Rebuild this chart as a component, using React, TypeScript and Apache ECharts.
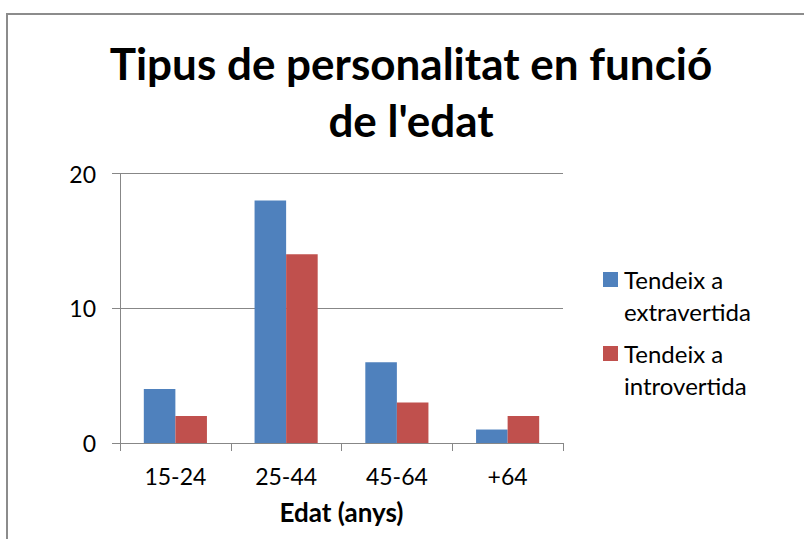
import React, { useEffect, useRef } from "react";
import * as echarts from "echarts";

const titleLines = ["Tipus de personalitat en funció", "de l'edat"];
const categories = ["15-24", "25-44", "45-64", "+64"];
const seriesNames = ["Tendeix a\nextravertida", "Tendeix a\nintrovertida"];
const extravertida = [4, 18, 6, 1];
const introvertida = [2, 14, 3, 2];
const yTicks = { min: 0, max: 20, interval: 10 };
const xAxisName = "Edat (anys)";
const colors = ["#4F81BD", "#C0504D"];

const FONT = "Lato, 'Open Sans', sans-serif";
const GRAY = "#878787";

export default function App() {
  const ref = useRef<HTMLDivElement>(null);
  useEffect(() => {
    if (!ref.current) return;
    const chart = echarts.init(ref.current, undefined, { renderer: "svg" });
    const legendItems: any[] = [];
    seriesNames.forEach((name, i) => {
      const y0 = 272 + i * 74;
      legendItems.push({
        type: "rect",
        shape: { x: 603, y: y0, width: 15, height: 15 },
        style: { fill: colors[i] },
      });
      legendItems.push({
        type: "text",
        x: 624,
        y: y0 - 9,
        style: {
          text: name,
          fill: "#000",
          font: `24px ${FONT}`,
          lineHeight: 32,
          verticalAlign: "top",
          align: "left",
        },
      });
    });
    chart.setOption({
      animation: false,
      backgroundColor: "#fff",
      grid: { left: 120, right: 241, top: 173.5, bottom: 96, containLabel: false },
      xAxis: {
        type: "category",
        data: categories,
        name: xAxisName,
        nameLocation: "middle",
        nameGap: 56,
        nameTextStyle: {
          fontFamily: FONT,
          fontWeight: "bold",
          fontSize: 26,
          color: "#000",
        },
        axisLine: { show: true, lineStyle: { color: GRAY, width: 1 } },
        axisTick: { show: true, length: 8, lineStyle: { color: GRAY } },
        axisLabel: { margin: 21, fontFamily: FONT, fontSize: 23, color: "#000" },
        splitLine: { show: false },
      },
      yAxis: {
        type: "value",
        min: yTicks.min,
        max: yTicks.max,
        interval: yTicks.interval,
        axisLine: { show: true, lineStyle: { color: GRAY, width: 1 } },
        axisTick: { show: true, length: 8, lineStyle: { color: GRAY } },
        axisLabel: { margin: 24, fontFamily: FONT, fontSize: 23, color: "#000" },
        splitLine: { show: true, lineStyle: { color: GRAY, width: 1 } },
      },
      series: [
        {
          name: seriesNames[0],
          type: "bar",
          data: extravertida,
          barGap: "0%",
          barCategoryGap: "43%",
          itemStyle: { color: colors[0] },
        },
        {
          name: seriesNames[1],
          type: "bar",
          data: introvertida,
          barGap: "0%",
          barCategoryGap: "43%",
          itemStyle: { color: colors[1] },
        },
      ],
      graphic: [
        {
          type: "rect",
          shape: { x: 7, y: 14, width: 900, height: 600 },
          style: { fill: "none", stroke: "#8c8c8c", lineWidth: 2 },
          silent: true,
        },
        {
          type: "text",
          x: 411,
          y: 34,
          style: {
            text: titleLines.join("\n"),
            fill: "#000",
            font: `bold 44px ${FONT}`,
            lineHeight: 57,
            align: "center",
            verticalAlign: "top",
          },
        },
        ...legendItems,
      ],
    });
    return () => chart.dispose();
  }, []);
  return (
    <div
      ref={ref}
      style={{ position: "fixed", left: 0, top: 0, width: 804, height: 539, background: "#fff" }}
    />
  );
}
